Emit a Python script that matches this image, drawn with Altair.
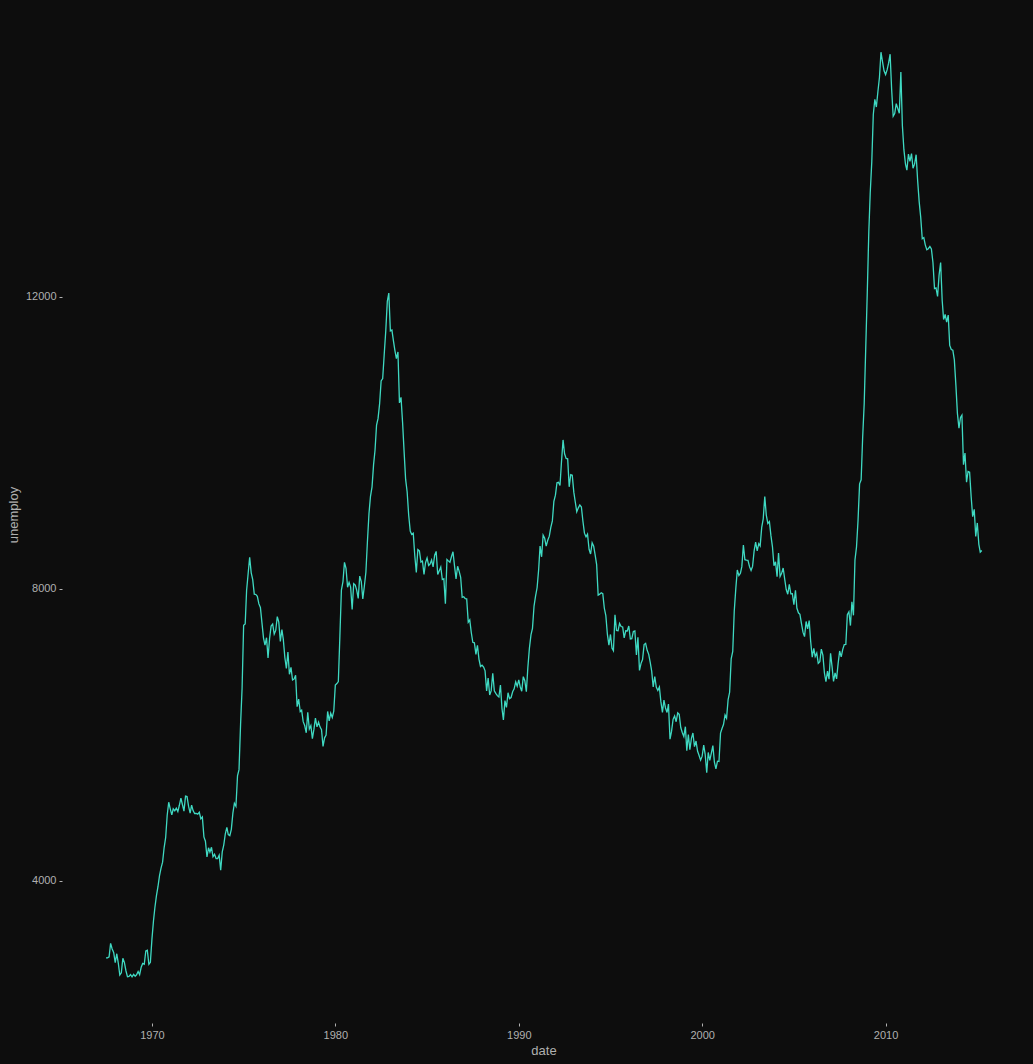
import altair as alt
import pandas as pd

# Monthly unemployment (thousands), July 1967 .. April 2015
u1967 = [2944, 2945, 2958, 3143, 3066, 3018]
u1968 = [2878, 3001, 2877, 2709, 2740, 2938, 2883, 2768, 2686, 2689, 2715, 2685]
u1969 = [2718, 2692, 2712, 2758, 2713, 2816, 2868, 2856, 3040, 3049, 2856, 2884]
u1970 = [3201, 3453, 3635, 3797, 3919, 4071, 4175, 4256, 4456, 4591, 4898, 5076]
u1971 = [4986, 4903, 4987, 4959, 4996, 4949, 5035, 5134, 5042, 4954, 5161, 5154]
u1972 = [5019, 4928, 5038, 4959, 4922, 4923, 4913, 4939, 4849, 4875, 4602, 4543]
u1973 = [4326, 4452, 4394, 4459, 4329, 4363, 4305, 4305, 4350, 4144, 4396, 4489]
u1974 = [4644, 4731, 4634, 4618, 4705, 4927, 5063, 5022, 5437, 5523, 6140, 6636]
u1975 = [7501, 7520, 7978, 8210, 8433, 8220, 8127, 7928, 7923, 7897, 7794, 7744]
u1976 = [7534, 7326, 7230, 7330, 7053, 7322, 7490, 7518, 7380, 7430, 7620, 7545]
u1977 = [7280, 7443, 7307, 7059, 6911, 7134, 6829, 6925, 6751, 6763, 6815, 6386]
u1978 = [6489, 6318, 6337, 6180, 6127, 6028, 6309, 6080, 6125, 5947, 6077, 6228]
u1979 = [6109, 6173, 6109, 6069, 5840, 5959, 5996, 6320, 6190, 6296, 6238, 6325]
u1980 = [6683, 6702, 6729, 7358, 7984, 8098, 8363, 8281, 8021, 8088, 8023, 7718]
u1981 = [8071, 8051, 7982, 7869, 8174, 8098, 7863, 8036, 8230, 8646, 9029, 9267]
u1982 = [9397, 9705, 9895, 10244, 10335, 10538, 10849, 10881, 11217, 11529, 11938, 12051]
u1983 = [11534, 11545, 11408, 11268, 11154, 11246, 10548, 10623, 10282, 9887, 9499, 9331]
u1984 = [9008, 8791, 8746, 8762, 8456, 8226, 8537, 8519, 8367, 8381, 8198, 8358]
u1985 = [8423, 8321, 8339, 8395, 8302, 8460, 8513, 8196, 8248, 8298, 8128, 8138]
u1986 = [7795, 8402, 8383, 8364, 8439, 8508, 8319, 8135, 8310, 8243, 8159, 7883]
u1987 = [7892, 7865, 7862, 7542, 7574, 7398, 7268, 7261, 7102, 7227, 7035, 6936]
u1988 = [6953, 6929, 6876, 6601, 6779, 6546, 6605, 6843, 6604, 6568, 6537, 6518]
u1989 = [6682, 6359, 6205, 6468, 6375, 6577, 6495, 6511, 6590, 6630, 6725, 6667]
u1990 = [6752, 6651, 6598, 6797, 6742, 6590, 6922, 7188, 7368, 7459, 7764, 7901]
u1991 = [8015, 8265, 8586, 8439, 8736, 8692, 8586, 8666, 8722, 8842, 8931, 9198]
u1992 = [9283, 9454, 9460, 9415, 9744, 10040, 9850, 9787, 9781, 9398, 9565, 9557]
u1993 = [9325, 9183, 9056, 9110, 9149, 9121, 8930, 8763, 8714, 8750, 8542, 8477]
u1994 = [8630, 8583, 8470, 8331, 7915, 7927, 7946, 7933, 7734, 7632, 7375, 7230]
u1995 = [7375, 7187, 7153, 7645, 7430, 7427, 7527, 7484, 7478, 7328, 7426, 7423]
u1996 = [7491, 7313, 7318, 7415, 7423, 7095, 7337, 6882, 6979, 7031, 7236, 7253]
u1997 = [7158, 7102, 7000, 6873, 6655, 6799, 6655, 6608, 6656, 6454, 6308, 6476]
u1998 = [6368, 6306, 6422, 5941, 6047, 6212, 6259, 6179, 6300, 6280, 6100, 6032]
u1999 = [5976, 6111, 5783, 6004, 5796, 5951, 6025, 5838, 5915, 5778, 5716, 5653]
u2000 = [5708, 5858, 5733, 5481, 5758, 5651, 5747, 5853, 5625, 5534, 5639, 5634]
u2001 = [6023, 6089, 6141, 6271, 6226, 6484, 6583, 7042, 7142, 7694, 8003, 8258]
u2002 = [8182, 8215, 8304, 8599, 8399, 8393, 8390, 8304, 8251, 8307, 8520, 8640]
u2003 = [8520, 8618, 8588, 8842, 8957, 9266, 9011, 8896, 8921, 8732, 8576, 8317]
u2004 = [8370, 8167, 8491, 8170, 8212, 8286, 8136, 7990, 7927, 8061, 7932, 7934]
u2005 = [7784, 7980, 7737, 7672, 7651, 7524, 7406, 7345, 7553, 7453, 7566, 7279]
u2006 = [7064, 7184, 7072, 7120, 6980, 7001, 7175, 7091, 6847, 6727, 6872, 6762]
u2007 = [7116, 6927, 6731, 6850, 6766, 6979, 7149, 7067, 7170, 7237, 7240, 7645]
u2008 = [7685, 7497, 7822, 7637, 8395, 8575, 8937, 9438, 9494, 10074, 10538, 11286]
u2009 = [12058, 12898, 13426, 13853, 14499, 14707, 14601, 14814, 15009, 15352, 15219, 15098]
u2010 = [15046, 15113, 15202, 15325, 14849, 14474, 14512, 14648, 14579, 14516, 15081, 14348]
u2011 = [14013, 13820, 13737, 13957, 13855, 13962, 13763, 13818, 13948, 13594, 13302, 13093]
u2012 = [12797, 12813, 12713, 12646, 12660, 12692, 12656, 12471, 12115, 12124, 12005, 12298]
u2013 = [12471, 11950, 11689, 11760, 11654, 11751, 11335, 11279, 11270, 11136, 10787, 10404]
u2014 = [10202, 10349, 10380, 9702, 9859, 9460, 9608, 9599, 9262, 8990, 9090, 8717]
u2015 = [8903, 8610, 8504, 8526]

x_ticks = ["1970-01-01", "1980-01-01", "1990-01-01", "2000-01-01", "2010-01-01"]
y_ticks = [4000, 8000, 12000]

values = (u1967 + u1968 + u1969 + u1970 + u1971 + u1972 + u1973 + u1974 + u1975 + u1976
          + u1977 + u1978 + u1979 + u1980 + u1981 + u1982 + u1983 + u1984 + u1985 + u1986
          + u1987 + u1988 + u1989 + u1990 + u1991 + u1992 + u1993 + u1994 + u1995 + u1996
          + u1997 + u1998 + u1999 + u2000 + u2001 + u2002 + u2003 + u2004 + u2005 + u2006
          + u2007 + u2008 + u2009 + u2010 + u2011 + u2012 + u2013 + u2014 + u2015)
dates = pd.date_range("1967-07-01", periods=len(values), freq="MS")
df = pd.DataFrame({"date": dates.strftime("%Y-%m-%d"), "unemploy": values})

BG = "#0d0d0d"
TXT = "#b0b0b0"

x_tick_vals = [alt.DateTime(year=int(t[:4]), month=1, date=1) for t in x_ticks]

chart = alt.Chart(df).mark_line(color="#3fd9c2", strokeWidth=1.3).encode(
    x=alt.X("date:T", title="date",
            scale=alt.Scale(domain=[alt.DateTime(year=1965, month=2, date=5),
                                    alt.DateTime(year=2017, month=8, date=8)], nice=False),
            axis=alt.Axis(values=x_tick_vals, format="%Y", labelFlush=False)),
    y=alt.Y("unemploy:Q", title="unemploy",
            scale=alt.Scale(domain=[2052, 15985], nice=False, zero=False),
            axis=alt.Axis(values=y_ticks, format="d")),
).properties(
    width=963, height=1017, background=BG,
    padding={"left": 62, "top": 6, "right": 8, "bottom": 41},
    autosize=alt.AutoSizeParams(type="none"),
).configure_view(stroke=None, fill=BG).configure_axis(
    grid=False, domain=False, tickColor=TXT, tickSize=3, tickWidth=1,
    labelColor=TXT, labelFont="Liberation Sans", labelFontSize=11, labelPadding=3,
    titleColor=TXT, titleFont="Liberation Sans", titleFontSize=13, titleFontWeight="normal",
).configure_axisY(titlePadding=5).configure_axisX(titlePadding=4)

chart.save("out.html", embed_options={"renderer": "svg", "actions": False})

with open("out.html", "r", encoding="utf-8") as f:
    html = f.read()
html = html.replace("<head>", "<head><style>html,body{margin:0;padding:0;background:%s;}</style>" % BG, 1)
with open("out.html", "w", encoding="utf-8") as f:
    f.write(html)
